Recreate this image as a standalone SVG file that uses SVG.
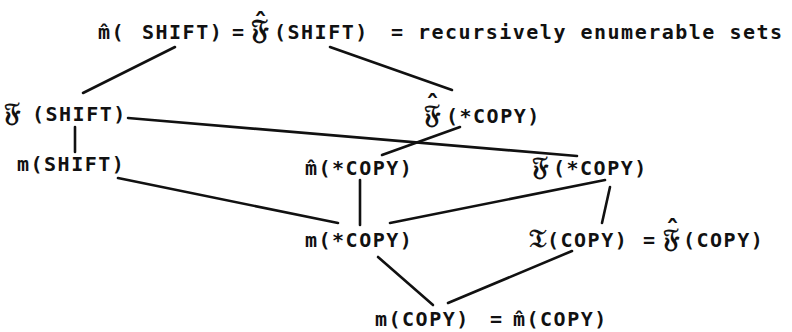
<svg xmlns="http://www.w3.org/2000/svg" width="792" height="332" viewBox="0 0 792 332">
<style>
text{font-family:"DejaVu Sans Mono","Liberation Mono",monospace;font-size:20px;font-weight:bold;letter-spacing:1.5px;fill:#111}
.fr{font-family:"DejaVu Serif","DejaVu Sans","Noto Sans",serif;font-size:26px;letter-spacing:0}
.frl{font-family:"DejaVu Serif","DejaVu Sans","Noto Sans",serif;font-size:28px;letter-spacing:0}
.hat{font-family:"DejaVu Sans","Noto Sans",sans-serif;font-size:26px;font-weight:bold;letter-spacing:0}
.edge{stroke:#111;stroke-width:2.6;stroke-linecap:round;fill:none}
</style>
<rect width="792" height="332" fill="#fff"/>
<g id="connectors">
<line class="edge" x1="175" y1="47" x2="83" y2="93"/>
<line class="edge" x1="330" y1="47" x2="452" y2="90"/>
<line class="edge" x1="128" y1="118" x2="577" y2="156"/>
<line class="edge" x1="75" y1="127" x2="75" y2="152"/>
<line class="edge" x1="460" y1="127" x2="382" y2="155"/>
<line class="edge" x1="118" y1="178" x2="338" y2="223"/>
<line class="edge" x1="360" y1="180" x2="360" y2="225"/>
<line class="edge" x1="605" y1="180" x2="390" y2="223"/>
<line class="edge" x1="610" y1="187" x2="602" y2="223"/>
<line class="edge" x1="378" y1="257" x2="433" y2="305"/>
<line class="edge" x1="572" y1="251" x2="448" y2="303"/>
</g>
<g id="n-top">
<text y="39"><tspan x="98">m̂(</tspan><tspan x="142">SHIFT)</tspan><tspan x="232">=</tspan><tspan class="frl" x="251">𝔉</tspan><tspan class="hat" x="254" dy="-6">ˆ</tspan><tspan x="274" dy="6">(SHIFT)</tspan><tspan x="391">=</tspan><tspan x="418">recursively enumerable sets</tspan></text>
</g>
<g id="n-fshift"><text y="121"><tspan class="fr" x="4">𝔉</tspan><tspan x="32">(SHIFT)</tspan></text></g>
<g id="n-mshift"><text x="17" y="171">m(SHIFT)</text></g>
<g id="n-fhatstarcopy">
<text y="123"><tspan class="fr" x="424">𝔉</tspan><tspan class="hat" x="426" dy="-8">ˆ</tspan><tspan x="446" dy="8">(*COPY)</tspan></text>
</g>
<g id="n-mhatstarcopy"><text x="305" y="175">m̂(*COPY)</text></g>
<g id="n-fstarcopy"><text y="175"><tspan class="fr" x="532">𝔉</tspan><tspan x="553">(*COPY)</tspan></text></g>
<g id="n-mstarcopy"><text x="305" y="247">m(*COPY)</text></g>
<g id="n-tcopy">
<text y="247"><tspan class="fr" x="529">𝔗</tspan><tspan x="547">(COPY)</tspan><tspan x="643">=</tspan><tspan class="fr" x="663">𝔉</tspan><tspan class="hat" x="666" dy="-7">ˆ</tspan><tspan x="683" dy="7">(COPY)</tspan></text>
</g>
<g id="n-mcopy"><text y="326"><tspan x="375">m(COPY)</tspan><tspan x="490">=</tspan><tspan x="513">m̂(COPY)</tspan></text></g>
</svg>
